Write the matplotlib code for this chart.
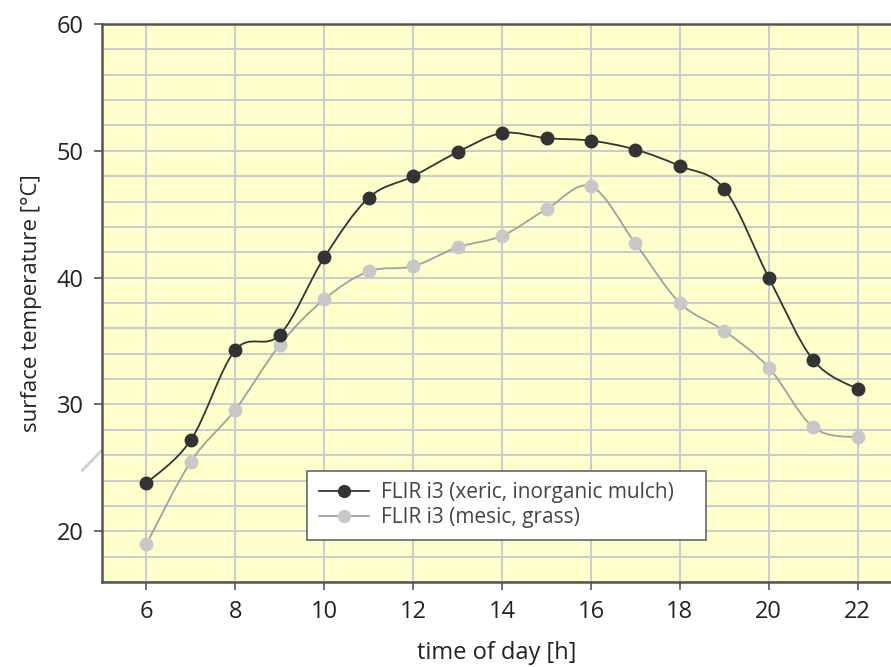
import numpy as np
import matplotlib.pyplot as plt
from matplotlib.path import Path
from matplotlib.patches import PathPatch
from matplotlib.lines import Line2D

plt.rcParams['font.family'] = ['Open Sans', 'DejaVu Sans']

hours = [6, 7, 8, 9, 10, 11, 12, 13, 14, 15, 16, 17, 18, 19, 20, 21, 22]
xeric = [23.8, 27.2, 34.3, 35.5, 41.6, 46.3, 48.0, 49.9, 51.4, 51.0, 50.8, 50.1, 48.8, 47.0, 40.0, 33.5, 31.2]
mesic = [19.0, 25.5, 29.6, 34.7, 38.3, 40.5, 40.9, 42.4, 43.3, 45.4, 47.2, 42.7, 38.0, 35.8, 32.9, 28.2, 27.4]
labels = ['FLIR i3 (xeric, inorganic mulch)', 'FLIR i3 (mesic, grass)']

dark = '#333333'
light_mk = '#c8c8c8'
light_ln = '#a0a0a0'


def smooth_path(x, y):
    # excel-like smoothed line: bezier segments with catmull-rom handles
    x = np.asarray(x, float)
    y = np.asarray(y, float)
    pts = np.column_stack([x, y])
    verts = [pts[0]]
    codes = [Path.MOVETO]
    n = len(pts)
    for i in range(n - 1):
        p0 = pts[max(i - 1, 0)]
        p1 = pts[i]
        p2 = pts[i + 1]
        p3 = pts[min(i + 2, n - 1)]
        c1 = p1 + (p2 - p0) / 6.0
        c2 = p2 - (p3 - p1) / 6.0
        verts += [c1, c2, p2]
        codes += [Path.CURVE4] * 3
    return Path(verts, codes)


fig = plt.figure(figsize=(8.91, 6.67), dpi=100)
ax = fig.add_axes([0.1145, 0.1274, 0.8855, 0.8366])
ax.set_facecolor('#ffffcc')

for ys, lc, mc in [(mesic, light_ln, light_mk), (xeric, dark, dark)]:
    ax.add_patch(PathPatch(smooth_path(hours, ys), facecolor='none',
                           edgecolor=lc, lw=1.3, zorder=3))
    ax.plot(hours, ys, 'o', color=mc, ms=9, zorder=4)

ax.set_xlim(5, 22.75)
ax.set_ylim(16, 60)
ax.set_xticks(range(6, 23, 2))
ax.set_yticks([20, 30, 40, 50, 60])
ax.set_yticks(range(16, 61, 2), minor=True)
ax.grid(True, which='major', color='#cccccc', lw=1.5, zorder=0)
ax.grid(True, which='minor', axis='y', color='#cccccc', lw=1.5, zorder=0)
ax.tick_params(which='minor', left=False)
ax.tick_params(which='major', length=6, width=1.2, color='#555555',
               labelsize=17, labelcolor='#222222', pad=7)
ax.set_axisbelow(True)

ax.spines['right'].set_visible(False)
for s in ['left', 'bottom', 'top']:
    ax.spines[s].set_color('#555555')
    ax.spines[s].set_linewidth(1.8)

ax.set_xlabel('time of day [h]', fontsize=17, color='#222222', labelpad=12)
ax.set_ylabel('surface temperature [°C]', fontsize=16, color='#222222', labelpad=11)

# axis break mark on the left
ax.plot([-0.025, -0.001], [0.2, 0.235], transform=ax.transAxes, color='#d0d0d0',
        lw=2, clip_on=False)

handles = [Line2D([], [], color=dark, lw=1.3, marker='o', ms=8.5, mfc=dark, mec=dark),
           Line2D([], [], color=light_ln, lw=1.3, marker='o', ms=8.5, mfc=light_mk, mec=light_mk)]
leg = ax.legend(handles, labels, loc='lower left', bbox_to_anchor=(0.247, 0.057, 0.532, 0.154),
                mode='expand', fontsize=15, frameon=True, fancybox=False,
                handlelength=2.4, handletextpad=0.6, borderpad=0.55, labelspacing=0.2,
                framealpha=1)
leg.get_frame().set_edgecolor('#666666')
leg.get_frame().set_linewidth(1.2)
for t in leg.get_texts():
    t.set_color('#444444')

fig.savefig('out.png', dpi=100)
